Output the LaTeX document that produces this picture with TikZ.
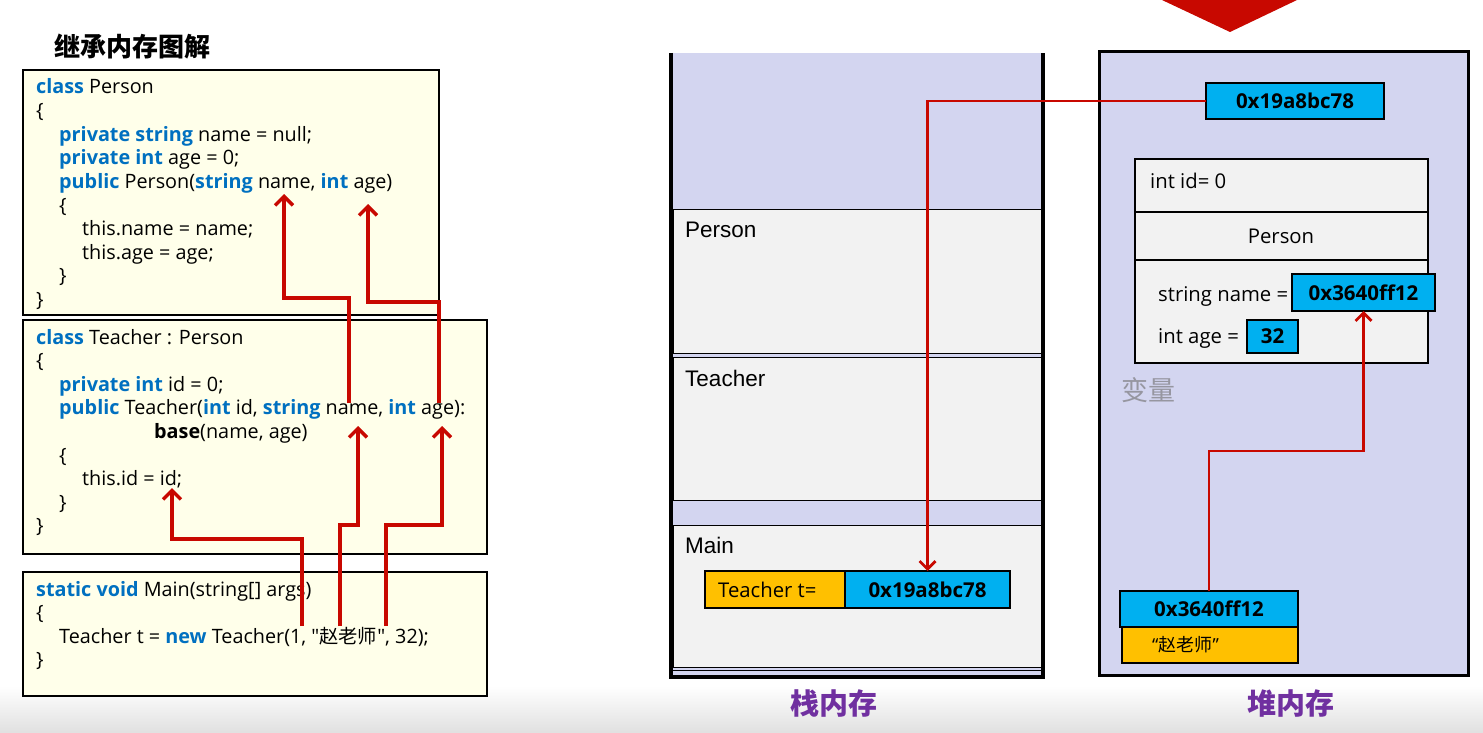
\documentclass[tikz,border=0pt]{standalone}
\usepackage{fontspec}
\setmainfont{Open Sans}
\newfontfamily\cjk{Noto Sans CJK SC}
\newfontfamily\openraw{Open Sans}[Ligatures=TeXOff]
\newfontfamily\arialf{Liberation Sans}
\usetikzlibrary{arrows.meta}
\definecolor{kwblue}{RGB}{0,112,192}
\definecolor{codebg}{RGB}{255,255,234}
\definecolor{lav}{RGB}{211,213,240}
\definecolor{framegray}{RGB}{242,242,242}
\definecolor{addrblue}{RGB}{0,176,240}
\definecolor{orng}{RGB}{255,192,0}
\definecolor{arrred}{RGB}{200,8,0}
\definecolor{purp}{RGB}{112,48,160}
\definecolor{ghost}{RGB}{150,150,160}
\definecolor{bandgray}{RGB}{224,224,224}
\newcommand\kw[1]{\textcolor{kwblue}{\textbf{#1}}}
\newcommand\dq{{\openraw"}}
\begin{document}
\begin{tikzpicture}[x=1pt,y=-1pt,
  codebox/.style={draw=black, line width=1.5pt, fill=codebg, anchor=north west, inner sep=0pt, outer sep=0pt},
  code/.style={anchor=base west, inner sep=0pt, font=\fontsize{19.8}{23}\selectfont},
  redarrow/.style={draw=arrred, line width=3.2pt, line join=miter, -{Straight Barb[length=9pt,width=18pt,line width=3.4pt]}},
  ptr/.style={draw=arrred, line width=2.6pt, line join=miter, -{Straight Barb[length=8pt,width=16pt,line width=2.8pt]}},
  frame/.style={draw=black, line width=0.9pt, fill=framegray, anchor=north west, inner sep=0pt, outer sep=0pt},
  addr/.style={draw=black, line width=2pt, fill=addrblue, anchor=north west, inner sep=0pt, outer sep=0pt, font=\bfseries\fontsize{20.5}{23}\selectfont},
  valbox/.style={draw=black, line width=2pt, fill=orng, anchor=north west, inner sep=0pt, outer sep=0pt},
  stlabel/.style={anchor=west, inner sep=0pt, font=\arialf\fontsize{22.5}{26}\selectfont},
  plain/.style={anchor=west, inner sep=0pt, font=\fontsize{20.3}{23}\selectfont},
  plainb/.style={anchor=base west, inner sep=0pt, font=\fontsize{20.3}{23}\selectfont},
  memtitle/.style={inner sep=0pt, text=purp, font=\cjk\bfseries\fontsize{29}{32}\selectfont}
]
\useasboundingbox (0,0) rectangle (1483,733);
\fill[white] (0,0) rectangle (1483,733);
\shade[top color=white, bottom color=bandgray] (0,686) rectangle (1483,733);

% top red marker
\fill[arrred] (1162,0) -- (1297,0) -- (1230,32) -- cycle;

% title
\node[anchor=west, inner sep=0pt, font=\cjk\bfseries\fontsize{26}{29}\selectfont] (title) at (54,47) {继承内存图解};

% ---------- code boxes ----------
\node[codebox, minimum width=416pt, minimum height=245pt] (bperson) at (23,70) {};
\node[codebox, minimum width=464pt, minimum height=234pt] (bteacher) at (23,320) {};
\node[codebox, minimum width=464pt, minimum height=124pt] (bmain) at (23,572) {};

\node[code] (p1) at (36,94) {\kw{class} Person};
\node[code] (p2) at (36,117.6) {\{};
\node[code] (p3) at (59,141.2) {\kw{private string} name = null;};
\node[code] (p4) at (59,164.8) {\kw{private int} age = 0;};
\node[code] (p5) at (59,188.4) {\kw{public} Person(\kw{string} name, \kw{int} age)};
\node[code] (p6) at (59,212) {\{};
\node[code] (p7) at (82,235.6) {this.name = name;};
\node[code] (p8) at (82,259.2) {this.age = age;};
\node[code] (p9) at (59,282.8) {\}};
\node[code] (p10) at (36,306.4) {\}};

\node[code] (t1) at (36,344) {\kw{class} Teacher : Person};
\node[code] (t2) at (36,367.6) {\{};
\node[code] (t3) at (59,391.2) {\kw{private int} id = 0;};
\node[code] (t4) at (59,414.8) {\kw{public} Teacher(\kw{int} id, \kw{string} name, \kw{int} age):};
\node[code] (t5) at (154,438.4) {\textbf{base}(name, age)};
\node[code] (t6) at (59,462) {\{};
\node[code] (t7) at (82,485.6) {this.id = id;};
\node[code] (t8) at (59,509.2) {\}};
\node[code] (t9) at (36,532.8) {\}};

\node[code] (m1) at (36,596) {\kw{static void} Main(string[] args)};
\node[code] (m2) at (36,619.6) {\{};
\node[code] (m3) at (59,643.2) {Teacher t = \kw{new} Teacher(1, \dq{\cjk\fontsize{19.3}{22}\selectfont 赵老师}\dq, 32);};
\node[code] (m4) at (36,666.8) {\}};

% code arrows
\coordinate (a1s) at (302,626);
\coordinate (a1e) at (172,488);
\coordinate (a2s) at (340,626);
\coordinate (a2e) at (358,426);
\coordinate (a3s) at (386,626);
\coordinate (a3e) at (442,426);
\coordinate (a4s) at (349,403);
\coordinate (a4e) at (284,194);
\coordinate (a5s) at (439,403);
\coordinate (a5e) at (368,204);
\draw[redarrow] (a1s) -- (302,539) -- (172,539) -- (a1e);
\draw[redarrow] (a2s) -- (340,525) -- (358,525) -- (a2e);
\draw[redarrow] (a3s) -- (386,525) -- (442,525) -- (a3e);
\draw[redarrow] (a4s) -- (349,298) -- (284,298) -- (a4e);
\draw[redarrow] (a5s) -- (439,302) -- (368,302) -- (a5e);

% ---------- stack ----------
\fill[lav] (671,53) rectangle (1043,677);
\node[frame, minimum width=368pt, minimum height=144pt] (fperson) at (673,209) {};
\node[frame, minimum width=368pt, minimum height=143pt] (fteacher) at (673,357) {};
\node[frame, minimum width=368pt, minimum height=142pt] (fmain) at (673,525) {};
\draw[line width=0.9pt] (673,670.5) -- (1041,670.5);
\draw[line width=4pt, line join=miter] (671,53) -- (671,677) -- (1043,677) -- (1043,53);

\node[stlabel] (lperson) at (685,230) {Person};
\node[stlabel] (lteacher) at (685,378) {Teacher};
\node[stlabel] (lmain) at (685,545) {Main};

\node[valbox, minimum width=140pt, minimum height=37pt] (tvar) at (705,571) {};
\node[plain] (tvartext) at (718,589.5) {Teacher t=};
\node[addr, minimum width=165pt, minimum height=37pt] (staddr) at (845,571) {0x19a8bc78};

\node[memtitle] (stacktitle) at (834,703) {栈内存};

% ---------- heap ----------
\node[draw=black, line width=3pt, fill=lav, anchor=north west, inner sep=0pt, outer sep=0pt, minimum width=369pt, minimum height=623pt] (heap) at (1099,52) {};
\node[anchor=west, inner sep=0pt, text=ghost, font=\cjk\fontsize{27}{30}\selectfont] (ghostword) at (1121,390) {变量};

\node[addr, minimum width=178pt, minimum height=36pt] (haddr) at (1206,83) {0x19a8bc78};

\node[frame, line width=1.2pt, minimum width=293pt, minimum height=53pt] (oid) at (1135,159) {};
\node[frame, line width=1.2pt, minimum width=293pt, minimum height=48pt] (operson) at (1135,212) {};
\node[frame, line width=1.2pt, minimum width=293pt, minimum height=103pt] (obody) at (1135,260) {};
\node[plain] (tid) at (1150,181) {int id= 0};
\node[inner sep=0pt, font=\fontsize{20.3}{23}\selectfont] (tperson) at (1281,236) {Person};
\node[plainb] (tname) at (1158,301.5) {string name =};
\node[plainb] (tage) at (1158,343.5) {int age =};
\node[addr, minimum width=143pt, minimum height=37pt] (hname) at (1292,274) {0x3640ff12};
\node[addr, minimum width=51pt, minimum height=33pt] (hage) at (1247,320) {32};

\node[addr, minimum width=178pt, minimum height=36pt] (hstr) at (1120,591) {0x3640ff12};
\node[valbox, minimum width=176pt, minimum height=36pt] (hstrval) at (1122,627) {};
\node[anchor=west, inner sep=0pt, font=\fontsize{18}{21}\selectfont] (hstrtext) at (1152,645) {{\openraw “}{\cjk 赵老师}{\openraw ”}};

\node[memtitle] (heaptitle) at (1291,703) {堆内存};

% pointers
\draw[ptr] (haddr.west) -| (staddr.north);
\coordinate (hbend) at (0,451);
\draw[ptr] (hstr.north) -- (hstr.north |- hbend) -| (hname.south);
\end{tikzpicture}
\end{document}
